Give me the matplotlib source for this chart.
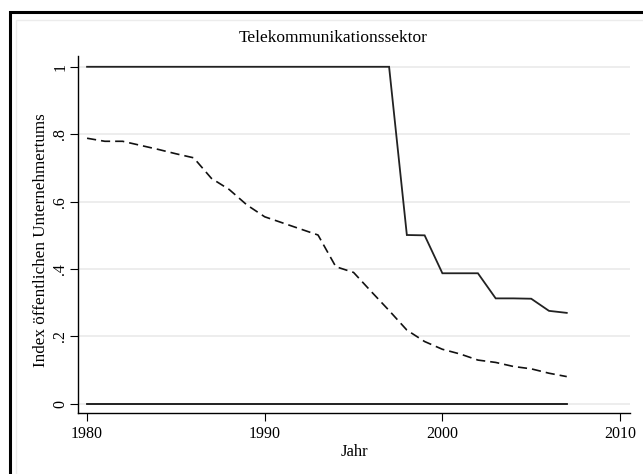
import matplotlib
matplotlib.use("Agg")
import matplotlib.pyplot as plt
from matplotlib.patches import Rectangle

years = list(range(1980, 2008))
index_top = [1.0] * 18 + [0.501, 0.5, 0.3875, 0.3875, 0.3875, 0.313, 0.313, 0.312, 0.276, 0.270]
index_mid = [0.788, 0.779, 0.779, 0.767, 0.755, 0.742, 0.730, 0.669, 0.636, 0.590,
             0.555, 0.537, 0.519, 0.501, 0.407, 0.390, 0.333, 0.277, 0.219, 0.185,
             0.162, 0.148, 0.130, 0.123, 0.111, 0.104, 0.091, 0.081]
index_low = [0.0] * 28
xticks = [1980, 1990, 2000, 2010]
yticks = [0, 0.2, 0.4, 0.6, 0.8, 1.0]
ytick_labels = ["0", ".2", ".4", ".6", ".8", "1"]

plt.rcParams['font.family'] = ['Liberation Serif', 'DejaVu Serif']

W, H = 643, 474
fig = plt.figure(figsize=(W / 100, H / 100), dpi=100)

# outer frames (right/bottom edges lie outside the image)
fig.patches.append(Rectangle((10 / W, -0.05), 1.1, 1.05 - 12 / H,
                             transform=fig.transFigure, fill=False, ec='black', lw=2.2))
fig.patches.append(Rectangle((16 / W, -0.05), 1.1, 1.05 - 20 / H,
                             transform=fig.transFigure, fill=False, ec='#ececec', lw=1.0))

left, right, top, bottom = 78, 630, 56, 413
ax = fig.add_axes([left / W, 1 - bottom / H, (right - left) / W, (bottom - top) / H])

for s in ['top', 'right']:
    ax.spines[s].set_visible(False)
for s in ['left', 'bottom']:
    ax.spines[s].set_color('black')
    ax.spines[s].set_linewidth(1.0)

ax.set_xlim(1979.49, 2010.56)
ax.set_ylim(-0.027, 1.032)

for yv in yticks:
    ax.axhline(yv, color='#ececec', lw=1.3, zorder=0)

ax.plot(years, index_top, color='#222222', lw=1.3, solid_joinstyle='miter')
ax.plot(years, index_mid, color='#111111', lw=1.2, dashes=(5.5, 3))
ax.plot(years, index_low, color='#111111', lw=1.3)

ax.set_xticks(xticks)
ax.set_xticklabels([str(x) for x in xticks])
ax.set_yticks(yticks)
ax.set_yticklabels(ytick_labels, rotation=90, va='center')
ax.tick_params(axis='both', direction='out', length=6, width=0.8, labelsize=11.5, colors='black')
ax.tick_params(axis='y', pad=1)
ax.tick_params(axis='x', pad=3)

ax.set_xlabel('Jahr', fontsize=12, labelpad=2)
ax.set_ylabel('Index öffentlichen Unternehmertums', fontsize=12.3)
ax.yaxis.set_label_coords(-0.053, 0.483)

fig.text(333 / W, 1 - 38 / H, 'Telekommunikationssektor',
         ha='center', va='center', fontsize=12.5)

fig.savefig('out.png', dpi=100)
